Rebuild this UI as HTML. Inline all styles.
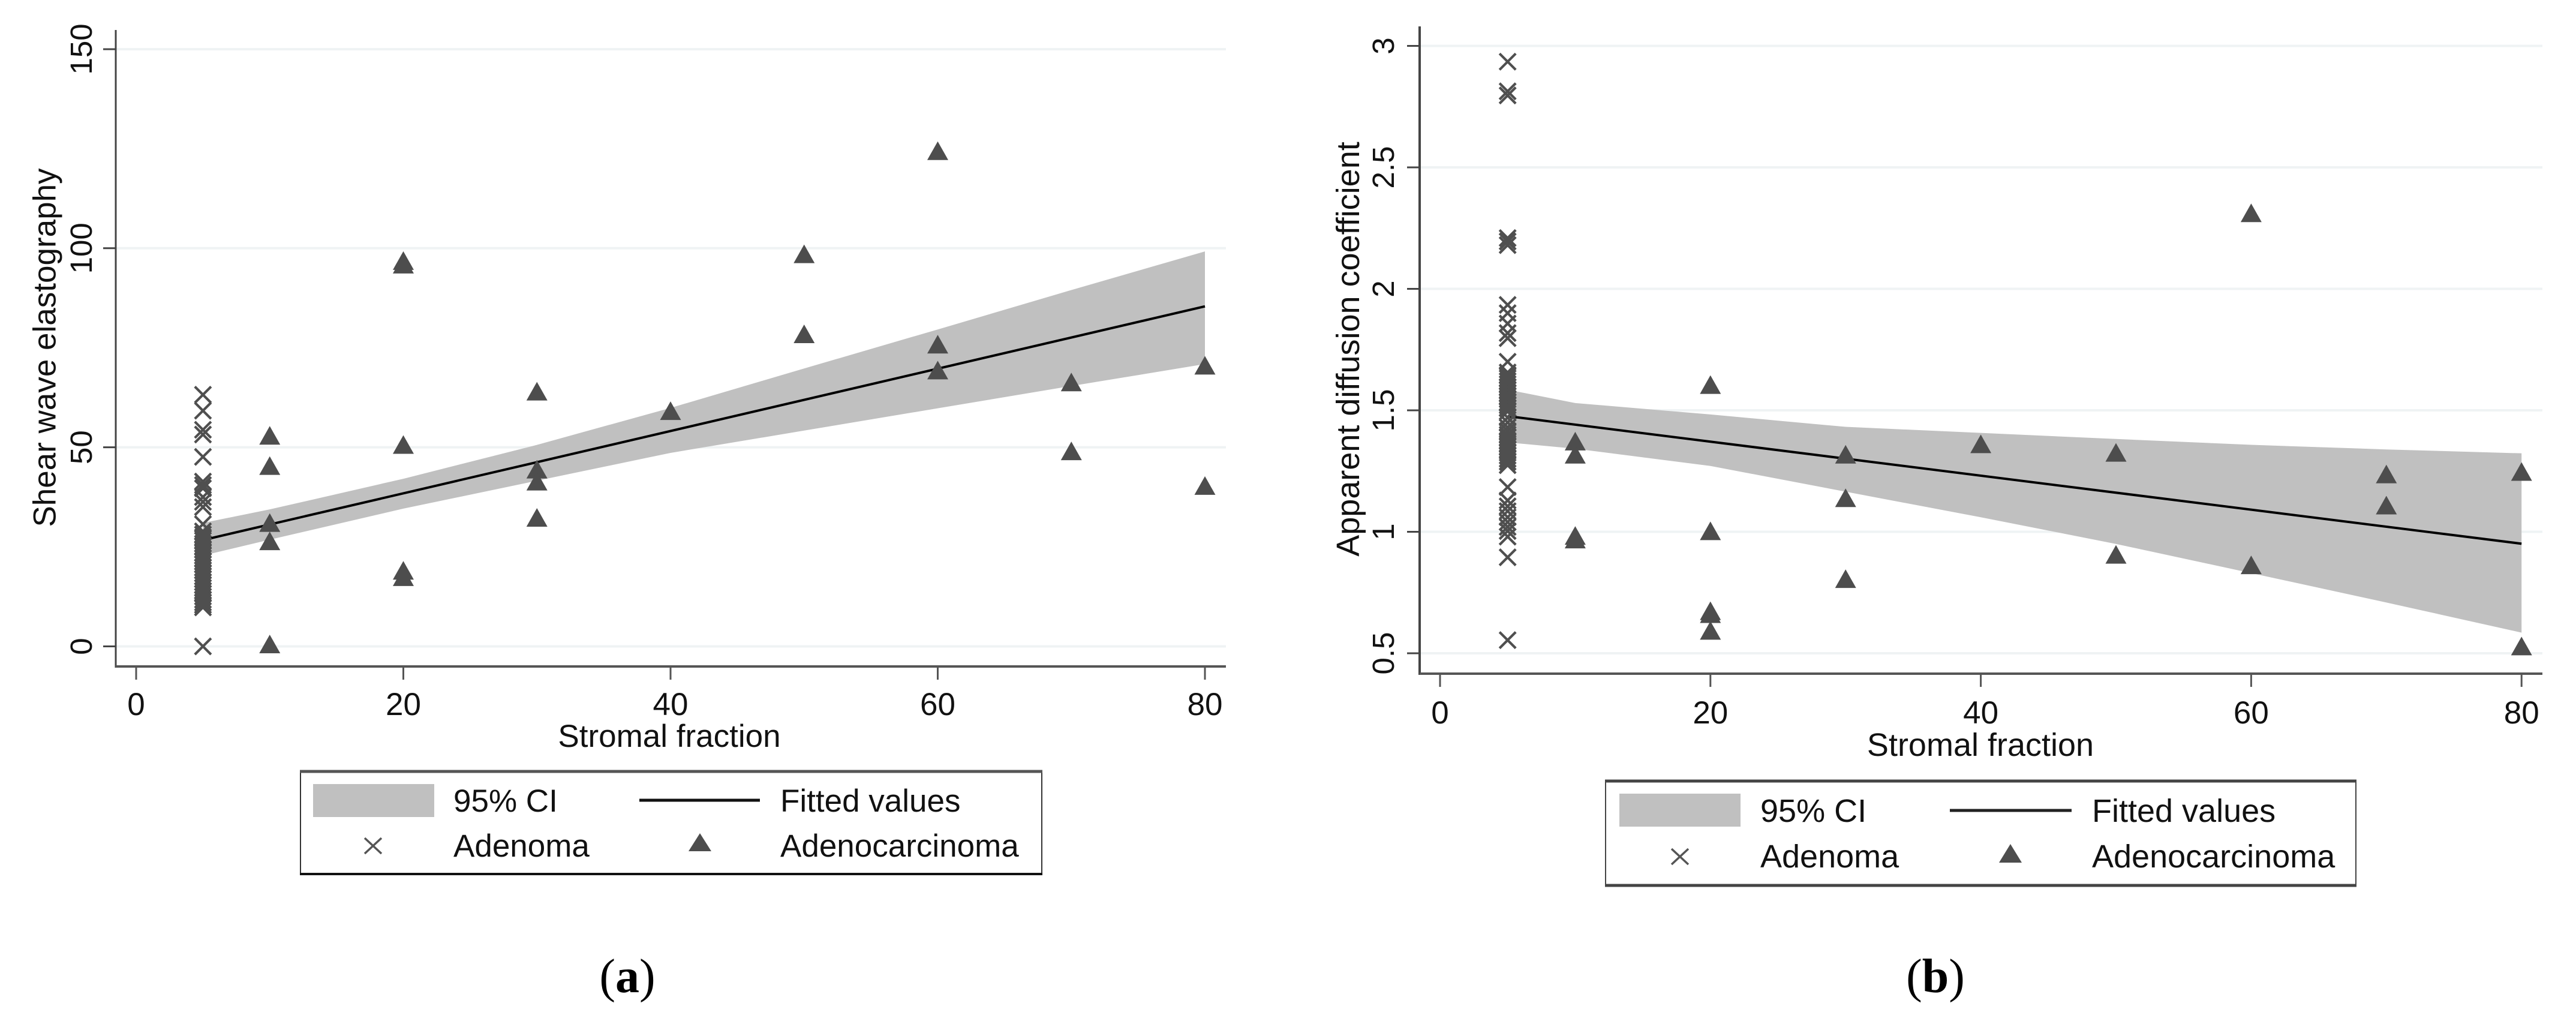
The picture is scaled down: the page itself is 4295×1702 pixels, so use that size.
<!DOCTYPE html>
<html lang="en">
<head>
<meta charset="utf-8">
<title>Stromal fraction scatter plots</title>
<style>
html,body{margin:0;padding:0;background:#fff;}
svg{display:block;}
text{font-family:"Liberation Sans",Arial,sans-serif;fill:#111;}
.cap{font-family:"Liberation Serif",serif;fill:#000;}
</style>
</head>
<body>
<svg id="figure" xmlns="http://www.w3.org/2000/svg" width="4295" height="1702" viewBox="0 0 4295 1702">
  <rect x="0" y="0" width="4295" height="1702" fill="#ffffff"/>
  <g id="panelA"></g>
  <g id="panelB"></g>

  <g>
    <rect x="501" y="1285" width="1236" height="172" fill="#fff" stroke="#333" stroke-width="2"/>
    <line x1="500" y1="1286" x2="1738" y2="1286" stroke="#555" stroke-width="5"/>
    <line x1="500" y1="1457" x2="1738" y2="1457" stroke="#111" stroke-width="4"/>
    <rect x="522" y="1307" width="202" height="55" fill="#c0c0c0"/>
    <text x="756" y="1353" font-size="53">95% CI</text>
    <line x1="1066" y1="1334" x2="1267" y2="1334" stroke="#111" stroke-width="5"/>
    <text x="1301" y="1353" font-size="53">Fitted values</text>
    <path d="M608 1397L636 1423M636 1397L608 1423" stroke="#555" stroke-width="3.5" fill="none"/>
    <text x="756" y="1428" font-size="53">Adenoma</text>
    <polygon points="1167,1389 1186,1419 1148,1419" fill="#4d4d4d"/>
    <text x="1301" y="1428" font-size="53">Adenocarcinoma</text>
  </g>

  <g>
    <rect x="2677" y="1302" width="1251" height="174" fill="#fff" stroke="#444" stroke-width="2"/>
    <line x1="2676" y1="1302" x2="3929" y2="1302" stroke="#444" stroke-width="5"/>
    <line x1="2676" y1="1476" x2="3929" y2="1476" stroke="#444" stroke-width="5"/>
    <rect x="2700" y="1323" width="202" height="55" fill="#c0c0c0"/>
    <text x="2935" y="1370" font-size="54">95% CI</text>
    <line x1="3251" y1="1351" x2="3454" y2="1351" stroke="#222" stroke-width="5"/>
    <text x="3488" y="1370" font-size="54">Fitted values</text>
    <path d="M2787 1415L2815 1441M2815 1415L2787 1441" stroke="#555" stroke-width="3.5" fill="none"/>
    <text x="2935" y="1446" font-size="54">Adenoma</text>
    <polygon points="3352,1407 3371,1438 3333,1438" fill="#4d4d4d"/>
    <text x="3488" y="1446" font-size="54">Adenocarcinoma</text>
  </g>

  <text class="cap" x="1046" y="1654" font-size="80" text-anchor="middle">(<tspan font-weight="bold">a</tspan>)</text>
  <text class="cap" x="3227" y="1654" font-size="80" text-anchor="middle">(<tspan font-weight="bold">b</tspan>)</text>
</svg>

<script>
// ---------- shared x axis ----------
const xTicks = [0, 20, 40, 60, 80];
const ciX = [5, 10, 20, 30, 40, 50, 60, 70, 80];
const fitX = [5, 80];

// ---------- panel (a): shear wave elastography ----------
const aYTicks = [0, 50, 100, 150];
const aCiUpper = [31, 34.4, 42.1, 50.6, 59.9, 69.8, 79.6, 89.5, 99.2];
const aCiLower = [22.8, 26.8, 34.6, 41.6, 48.6, 54.2, 59.8, 65.4, 70.9];
const aFit = [26.7, 85.4];
const aAdenomaX = 5;
const aAdenomaY = [63.2, 59.2, 54.4, 53.2, 47.6, 41.4, 40.5, 39.7, 37.5, 36.3, 35, 30.7,
  28.9, 28.1, 27.4, 26.6, 25.8, 25.1, 24.3, 23.5, 22.8, 22.1, 21.3, 20.6, 19.8, 19.1, 18.3,
  17.6, 16.9, 16.1, 15.4, 14.7, 13.9, 13.2, 12.5, 11.7, 11, 10.4, 9.8, 0];
const aCarcinomaX = [10, 10, 10, 10, 10, 20, 20, 20, 20, 20, 30, 30, 30, 30, 40, 50, 50, 60, 60, 60, 70, 70, 80, 80];
const aCarcinomaY = [53, 45.4, 31.1, 26.5, 0.6, 96.9, 96, 50.7, 19.1, 17.5, 64.1, 44.5, 41.5, 32.4, 59.2, 98.6, 78.5, 124.5, 75.9, 69.4, 66.4, 49.1, 70.6, 40.4];

// ---------- panel (b): apparent diffusion coefficient ----------
const bYTicks = [0.5, 1, 1.5, 2, 2.5, 3];
const bCiUpper = [1.585, 1.53, 1.483, 1.432, 1.407, 1.382, 1.358, 1.339, 1.323];
const bCiLower = [1.368, 1.342, 1.271, 1.165, 1.06, 0.95, 0.83, 0.709, 0.585];
const bFit = [1.476, 0.951];
const bAdenomaX = 5;
const bAdenomaY = [2.935, 2.813, 2.796, 2.209, 2.195, 2.18, 1.934, 1.9, 1.857, 1.818, 1.797, 1.7,
  1.656, 1.645, 1.632, 1.62, 1.608, 1.595, 1.583, 1.57, 1.558, 1.545, 1.533, 1.52, 1.508, 1.495,
  1.47, 1.45, 1.43, 1.415, 1.4, 1.388, 1.375, 1.363, 1.35, 1.338, 1.325, 1.313, 1.3, 1.288,
  1.274, 1.184, 1.129, 1.105, 1.085, 1.06, 1.04, 1.02, 1.003, 0.98, 0.895, 0.554];
const bCarcinomaX = [10, 10, 10, 10, 20, 20, 20, 20, 20, 30, 30, 30, 40, 50, 50, 60, 60, 70, 70, 80, 80];
const bCarcinomaY = [1.373, 1.319, 0.985, 0.97, 1.606, 1.004, 0.675, 0.663, 0.594, 1.319, 1.14, 0.807, 1.362, 1.327, 0.907, 2.313, 0.864, 1.238, 1.11, 1.248, 0.53];

const SVGNS = 'http://www.w3.org/2000/svg';

function make(parent, tag, attrs, text) {
  const el = document.createElementNS(SVGNS, tag);
  for (const k in attrs) el.setAttribute(k, attrs[k]);
  if (text !== undefined) el.textContent = text;
  parent.appendChild(el);
  return el;
}

function drawPanel(root, layout, yTicks, ciUpper, ciLower, fit, adX, adY, caX, caY) {
  // axis functions: linear mapping derived from two calibration points
  const sx = v => layout.x0 + (v - xTicks[0]) * layout.pxPerX;
  const sy = v => layout.yRef + (v - layout.yRefVal) * layout.pxPerY;

  // gridlines and y ticks
  yTicks.forEach(t => {
    const g = make(root, 'line', {x1: layout.left, x2: layout.right, y1: sy(t), y2: sy(t), stroke: '#eff3f4', 'stroke-width': 4});
    
    
    const tk = make(root, 'line', {x1: layout.left - 21, x2: layout.left, y1: sy(t), y2: sy(t), stroke: '#444', 'stroke-width': 3});
    
    
    const lab = make(root, 'text', {
      x: layout.yTickBase, y: sy(t), 'font-size': 51, 'text-anchor': 'middle',
      transform: 'rotate(-90 ' + layout.yTickBase + ' ' + sy(t) + ')'
    }, String(t));
    
    
  });

  // CI band
  const upperPts = ciX.map((x, i) => sx(x) + ',' + sy(ciUpper[i]));
  const lowerPts = ciX.map((x, i) => sx(x) + ',' + sy(ciLower[i])).reverse();
  const band = make(root, 'polygon', {points: upperPts.concat(lowerPts).join(' '), fill: '#c0c0c0'});
  
  

  // fitted line
  const fitLine = make(root, 'polyline', {
    points: fitX.map((x, i) => sx(x) + ',' + sy(fit[i])).join(' '),
    fill: 'none', stroke: '#000', 'stroke-width': 4
  });
  
  

  // adenoma markers
  adY.forEach(v => {
    const cx = sx(adX), cy = sy(v), r = 13.5;
    const m = make(root, 'path', {
      d: 'M' + (cx - r) + ' ' + (cy - r) + 'L' + (cx + r) + ' ' + (cy + r) + 'M' + (cx + r) + ' ' + (cy - r) + 'L' + (cx - r) + ' ' + (cy + r),
      stroke: '#4f4f4f', 'stroke-width': 4.2, fill: 'none'
    });
    
    
  });

  // adenocarcinoma markers
  caY.forEach((v, i) => {
    const cx = sx(caX[i]), cy = sy(v);
    const m = make(root, 'polygon', {
      points: cx + ',' + (cy - 15.5) + ' ' + (cx + 17.5) + ',' + (cy + 15.5) + ' ' + (cx - 17.5) + ',' + (cy + 15.5),
      fill: '#4d4d4d'
    });
    
    
  });

  // axes
  const yAxis = make(root, 'line', {x1: layout.left, x2: layout.left, y1: layout.top, y2: layout.bottom + 2, stroke: '#444', 'stroke-width': layout.yAxisWidth});
  
  
  const xAxis = make(root, 'line', {x1: layout.left, x2: layout.right, y1: layout.bottom, y2: layout.bottom, stroke: '#555', 'stroke-width': 4});
  
  

  // x ticks
  xTicks.forEach(t => {
    const tk = make(root, 'line', {x1: sx(t), x2: sx(t), y1: layout.bottom, y2: layout.bottom + 22, stroke: '#555', 'stroke-width': 3});
    
    
    const lab = make(root, 'text', {x: sx(t), y: layout.xTickBase, 'font-size': 53, 'text-anchor': 'middle'}, String(t));
    
    
  });

  // titles
  const xt = make(root, 'text', {x: layout.xTitleX, y: layout.xTitleY, 'font-size': layout.titleSize, 'text-anchor': 'middle'}, 'Stromal fraction');
  
  
  const yt = make(root, 'text', {
    x: layout.yTitleX, y: layout.yTitleY, 'font-size': layout.titleSize, 'text-anchor': 'middle',
    transform: 'rotate(-90 ' + layout.yTitleX + ' ' + layout.yTitleY + ')'
  }, layout.yTitle);
  
  
}

drawPanel(document.getElementById('panelA'), {
  left: 193, right: 2044, top: 50, bottom: 1111,
  x0: 227, pxPerX: 22.275, yRef: 1077.5, yRefVal: 0, pxPerY: -6.637,
  yAxisWidth: 3, yTickBase: 153, xTickBase: 1192,
  xTitleX: 1116, xTitleY: 1245, yTitleX: 92.5, yTitleY: 579.5, titleSize: 53,
  yTitle: 'Shear wave elastography'
}, aYTicks, aCiUpper, aCiLower, aFit, aAdenomaX, aAdenomaY, aCarcinomaX, aCarcinomaY);

drawPanel(document.getElementById('panelB'), {
  left: 2367, right: 4239, top: 44, bottom: 1123,
  x0: 2401, pxPerX: 22.54, yRef: 1089, yRefVal: 0.5, pxPerY: -405,
  yAxisWidth: 4, yTickBase: 2324, xTickBase: 1206,
  xTitleX: 3302, xTitleY: 1260, yTitleX: 2266, yTitleY: 582, titleSize: 54,
  yTitle: 'Apparent diffusion coefficient'
}, bYTicks, bCiUpper, bCiLower, bFit, bAdenomaX, bAdenomaY, bCarcinomaX, bCarcinomaY);
</script>
</body>
</html>
